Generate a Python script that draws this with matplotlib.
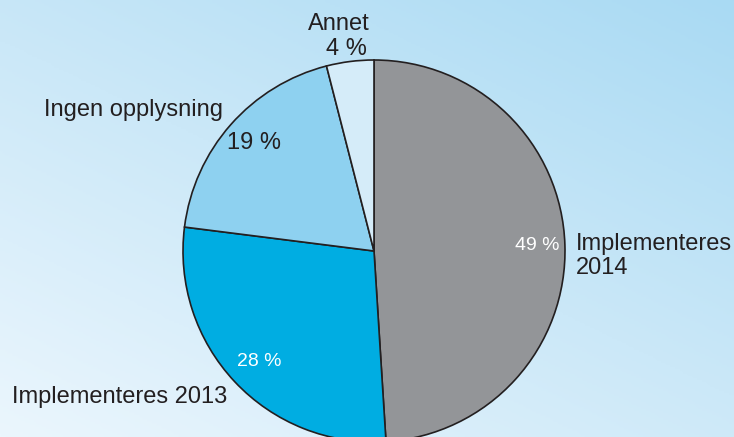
import numpy as np
from matplotlib import pyplot as plt
from matplotlib.colors import LinearSegmentedColormap

# shares in percent, clockwise from the top
labels = ['Implementeres\n2014', 'Implementeres 2013', 'Ingen opplysning', 'Annet']
shares = [49, 28, 19, 4]
colors = ['#939598', '#00ade2', '#8ed1f0', '#d5ecf9']

W, H = 734, 437
fig = plt.figure(figsize=(W / 100, H / 100), dpi=100)

# background: light blue gradient, palest at bottom left
bg = fig.add_axes([0, 0, 1, 1])
xx, yy = np.meshgrid(np.linspace(0, 1, 300), np.linspace(0, 1, 200))
t = 0.45 * xx + 0.55 * yy
cmap = LinearSegmentedColormap.from_list('bg', ['#ebf6fd', '#cbe8f8', '#a9daf3'])
bg.imshow(t, cmap=cmap, origin='lower', extent=[0, 1, 0, 1], aspect='auto', vmin=0, vmax=1)
bg.axis('off')

# pie axes, centre at (374, 251) px, radius 191 px
cx, cy, r = 374, 251, 191
ax = fig.add_axes([(cx - r) / W, (H - cy - r) / H, 2 * r / W, 2 * r / H])
ax.pie(shares, colors=colors, startangle=90, counterclock=False,
       wedgeprops=dict(edgecolor='#231f20', linewidth=1.2))
ax.set_xlim(-1, 1)
ax.set_ylim(-1, 1)
ax.axis('off')

def txt(x, y, s, size=17, color='#231f20', ha='center'):
    fig.text(x / W, 1 - y / H, s, fontsize=size, color=color, ha=ha, va='center',
             family='Liberation Sans', linespacing=1.15)

txt(576, 256, labels[0], ha='left')
txt(120, 397, labels[1])
txt(134, 110, labels[2])
txt(339, 24, labels[3])

txt(537, 246, f'{shares[0]} %', size=14, color='white')
txt(259, 361, f'{shares[1]} %', size=14, color='white')
txt(254, 143, f'{shares[2]} %')
txt(346, 49, f'{shares[3]} %')

fig.savefig('out.png', dpi=100)
